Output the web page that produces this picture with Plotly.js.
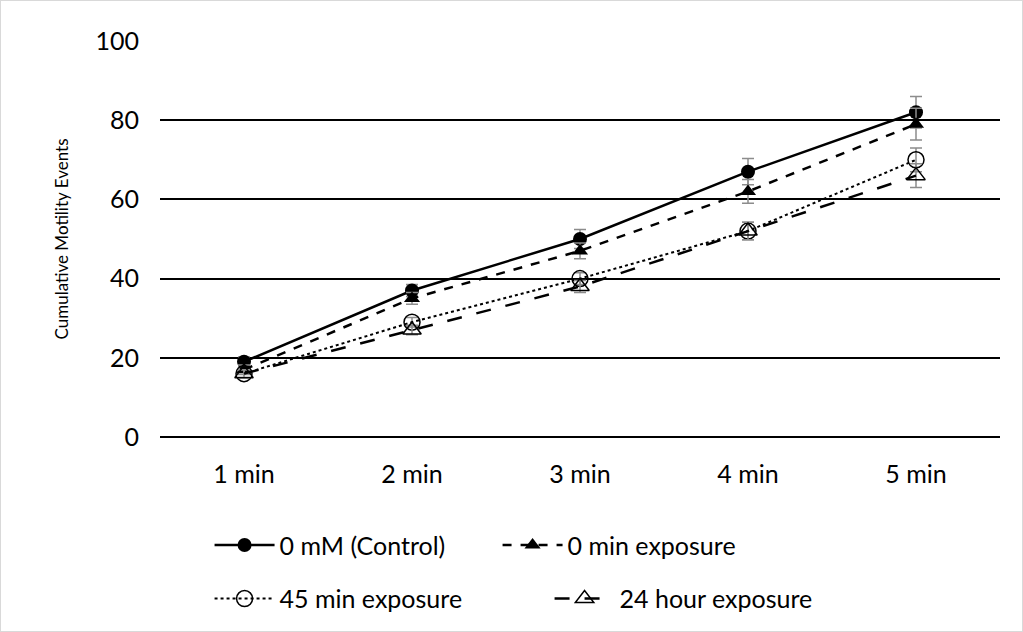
<!DOCTYPE html>
<html><head><meta charset="utf-8">
<script src="https://cdn.plot.ly/plotly-3.0.1.min.js"></script>
<style>body{margin:0;} #wrap{position:relative;width:1023px;height:632px;} #frame{position:absolute;left:0;top:0;width:1021px;height:630px;border:1px solid #d9d9d9;pointer-events:none;}</style>
</head><body>
<div id="wrap"><div id="chart" style="width:1023px;height:632px;"></div><div id="frame"></div></div>
<script>
const categories = ["1 min", "2 min", "3 min", "4 min", "5 min"];
const control = [19, 37, 50, 67, 82];
const controlErr = [1.2, 1.5, 2.4, 3.3, 4.0];
const min0 = [17, 35, 47, 62, 79];
const min0Err = [1.2, 1.5, 2.0, 3.0, 4.0];
const min45 = [16, 29, 40, 52, 70];
const min45Err = [1.0, 1.2, 1.5, 2.2, 3.0];
const hour24 = [16, 27, 38, 52, 66];
const hour24Err = [1.0, 1.2, 1.5, 2.2, 3.0];

const errStyle = e => ({type: 'data', array: e, visible: true, color: '#8c8c8c', thickness: 1.5, width: 6});

const traces = [
  {x: categories, y: control, name: '0 mM (Control)', mode: 'lines+markers', error_y: errStyle(controlErr),
   line: {color: '#000', width: 2.5, dash: 'solid'}, marker: {symbol: 'circle', size: 14, color: '#000'}, legend: 'legend'},
  {x: categories, y: min0, name: '0 min exposure', mode: 'lines+markers', error_y: errStyle(min0Err),
   line: {color: '#000', width: 2.5, dash: 'dash'}, marker: {symbol: 'triangle-up', size: 14, color: '#000'}, legend: 'legend'},
  {x: categories, y: min45, name: '45 min exposure', mode: 'lines+markers', error_y: errStyle(min45Err),
   line: {color: '#000', width: 2, dash: 'dot'}, marker: {symbol: 'circle-open', size: 16, color: '#000', line: {width: 1.5}}, legend: 'legend2'},
  {x: categories, y: hour24, name: '24 hour exposure', mode: 'lines+markers', error_y: errStyle(hour24Err),
   line: {color: '#000', width: 2.5, dash: 'longdash'}, marker: {symbol: 'triangle-up-open', size: 16, color: '#000', line: {width: 1.5}}, legend: 'legend2'}
];

const font = {family: 'Lato, "Open Sans", sans-serif', color: '#000'};
const layout = {
  width: 1023, height: 632,
  margin: {l: 160, r: 23, t: 41, b: 194},
  paper_bgcolor: '#fff', plot_bgcolor: '#fff',
  font: Object.assign({}, font, {size: 25}),
  showlegend: true,
  xaxis: {type: 'category', showgrid: false, zeroline: false, showline: false, ticks: '', tickfont: {size: 25}, range: [-0.5, 4.5], ticklabelstandoff: 20},
  yaxis: {range: [0, 100], dtick: 20, showgrid: true, gridcolor: '#000', gridwidth: 1.5, zeroline: true, zerolinecolor: '#000', zerolinewidth: 1.5,
          showline: false, ticks: '', tickfont: {size: 25}, ticklabelstandoff: 20,
          title: {text: 'Cumulative Motility Events', font: {size: 17}, standoff: 22}},
  legend: {orientation: 'h', x: 0.059, xanchor: 'left', y: -0.27, yanchor: 'middle', font: {size: 25}, bgcolor: 'rgba(0,0,0,0)', itemwidth: 60, entrywidth: 213, entrywidthmode: 'pixels'},
  legend2: {orientation: 'h', x: 0.059, xanchor: 'left', y: -0.405, yanchor: 'middle', font: {size: 25}, bgcolor: 'rgba(0,0,0,0)', itemwidth: 60, entrywidth: 265, entrywidthmode: 'pixels'}
};
Plotly.newPlot('chart', traces, layout, {displayModeBar: false});
</script>
</body></html>
